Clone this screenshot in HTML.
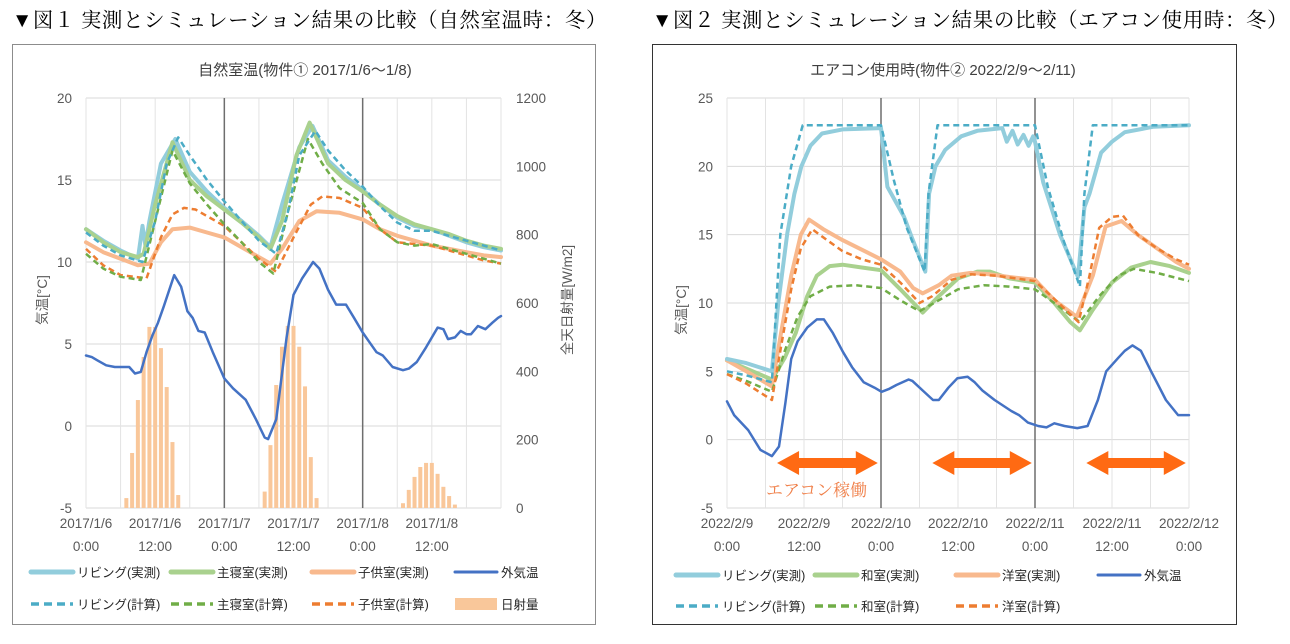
<!DOCTYPE html>
<html><head><meta charset="utf-8">
<style>
body{margin:0;background:#fff;width:1290px;height:644px;overflow:hidden}
svg{display:block;font-family:"Liberation Sans","Noto Sans CJK JP",sans-serif}
.hdr{font-family:"Liberation Serif","Noto Serif CJK SC",serif;font-size:20.5px;fill:#000;letter-spacing:0.6px}
.tick{font-size:13.5px;fill:#595959}
.ttl{font-size:15px;fill:#404040}
.leg{font-size:12.5px;fill:#262626}
</style></head><body>
<svg id="svg" width="1290" height="644" viewBox="0 0 1290 644">
<text class="hdr" x="12" y="27">▼図１ 実測とシミュレーション結果の比較（自然室温時：冬）</text>
<text class="hdr" x="652" y="27">▼図２ 実測とシミュレーション結果の比較（エアコン使用時：冬）</text>
<rect x="12.5" y="44.5" width="583" height="580" fill="none" stroke="#8c8c8c"/>
<rect x="652.5" y="44.5" width="584" height="580" fill="none" stroke="#333"/>
<g id="c1"></g>
<g id="c2"></g>
</svg>
<script>
// ---------- Chart 1 data (hour from 2017/1/6 0:00, °C) ----------
const c1LivingActual=[[0,12.0],[3,11.3],[6,10.7],[9,10.2],[9.8,12.2],[10.3,11.0],[11,12.5],[13,16.0],[15.5,17.5],[18,15.5],[21,14.3],[24,13.3],[27,12.5],[30,11.6],[32,10.9],[34,13.5],[37,17.0],[39.3,18.3],[42,16.2],[45,15.2],[48,14.4],[51,13.5],[54,12.7],[57,12.2],[60,12.0],[63,11.6],[66,11.2],[69,10.9],[72,10.7]];
const c1BedroomActual=[[0,12.0],[3,11.2],[6,10.6],[9,10.3],[10,10.5],[12,13.5],[15,17.3],[18,15.0],[21,14.0],[24,13.2],[27,12.4],[30,11.5],[32,10.8],[34,12.5],[36.5,16.5],[38.8,18.5],[42,16.0],[45,15.0],[48,14.3],[51,13.5],[54,12.8],[57,12.3],[60,12.0],[63,11.7],[66,11.3],[69,11.0],[72,10.8]];
const c1ChildActual=[[0,11.2],[3,10.6],[6,10.2],[9,9.8],[11,9.9],[13,11.2],[15,12.0],[18,12.1],[21,11.8],[24,11.5],[27,10.9],[30,10.3],[32,9.9],[34,10.8],[37,12.5],[40,13.1],[44,13.0],[48,12.6],[51,12.0],[54,11.6],[57,11.3],[60,11.0],[63,10.8],[66,10.6],[69,10.4],[72,10.3]];
const c1LivingCalc=[[0,11.8],[3,11.0],[6,10.4],[9.8,10.0],[12,12.5],[14,16.0],[16,17.6],[18,16.5],[21,15.0],[24,13.7],[27,12.5],[30,11.3],[33,10.5],[35,13.0],[37,16.5],[39.8,18.0],[42,16.8],[45,15.6],[48,14.6],[51,13.4],[54,12.4],[57,11.9],[60,11.9],[63,11.6],[66,11.3],[69,11.0],[72,10.7]];
const c1BedroomCalc=[[0,10.5],[3,9.6],[6,9.1],[9.5,8.9],[12,12.5],[15,16.8],[18,14.8],[21,13.5],[24,12.3],[27,11.2],[30,10.0],[32.5,9.3],[35,13.0],[38.5,17.5],[41,16.0],[44,14.5],[48,13.6],[51,12.0],[54,11.2],[57,11.0],[60,11.1],[63,10.8],[66,10.5],[69,10.2],[72,9.9]];
const c1ChildCalc=[[0,10.8],[3,9.8],[6,9.2],[10.5,9.0],[13,11.5],[15,12.9],[17,13.3],[19,13.2],[21,12.8],[24,12.2],[27,11.2],[30,10.2],[33,9.4],[36,11.5],[39,13.5],[41,14.0],[44,13.9],[48,13.3],[51,12.0],[54,11.2],[57,11.1],[60,11.0],[63,10.7],[66,10.4],[69,10.1],[72,9.9]];
const c1Outdoor=[[0,4.3],[1,4.2],[2,4.0],[3.5,3.7],[5,3.6],[6.5,3.6],[7.5,3.6],[8.5,3.2],[9.5,3.3],[10.5,4.5],[11.5,5.5],[12.5,6.3],[13.5,7.3],[15.3,9.2],[16.5,8.5],[17.6,7.0],[18.5,6.6],[19.5,5.8],[20.6,5.7],[22,4.5],[24,2.9],[25.5,2.3],[27.7,1.6],[29.5,0.4],[31,-0.7],[31.6,-0.8],[33,0.4],[34.8,5.4],[36,8.0],[37.5,9.0],[39.4,10.0],[40.5,9.6],[42,8.3],[43.4,7.4],[45.1,7.4],[46.5,6.6],[48,5.7],[49,5.2],[50.4,4.5],[51.5,4.3],[53.2,3.6],[55,3.4],[56,3.5],[57.4,3.9],[59,4.8],[61,6.0],[62,5.9],[62.8,5.3],[64,5.4],[65,5.8],[66,5.6],[66.8,5.6],[68,6.1],[69.3,5.9],[70.5,6.3],[71.5,6.6],[72,6.7]];
const c1SolarHours=[7,8,9,10,11,12,13,14,15,16,31,32,33,34,35,36,37,38,39,40,55,56,57,58,59,60,61,62,63,64];
const c1SolarValues=[29,161,316,442,530,530,468,354,193,38,48,184,360,472,533,533,472,356,149,29,14,53,91,120,132,132,100,62,35,10];
const c1YTicks=[-5,0,5,10,15,20];
const c1Y2Ticks=[0,200,400,600,800,1000,1200];
const c1XLabels=[["2017/1/6","0:00"],["2017/1/6","12:00"],["2017/1/7","0:00"],["2017/1/7","12:00"],["2017/1/8","0:00"],["2017/1/8","12:00"]];

// ---------- Chart 2 data (hour from 2022/2/9 0:00, °C) ----------
const c2LivingActual=[[0,5.9],[3,5.6],[7,5.0],[8,10],[9.4,15.1],[10.5,18],[11.6,20],[13,21.5],[14.8,22.4],[18,22.7],[24,22.8],[25,18.5],[27.6,16.3],[28.8,14.8],[30.9,12.3],[31.5,18],[32.5,20],[34,21.2],[36.5,22.2],[39,22.6],[42.9,22.8],[43.6,21.8],[44.5,22.6],[45.3,21.6],[46.2,22.3],[47,21.5],[47.7,22.2],[48,21.8],[49.3,18.8],[51.9,15.0],[54.7,11.9],[55.7,17.0],[56.5,18],[58.3,21.0],[60,21.8],[62,22.5],[66.5,22.9],[72,23.0]];
const c2JapaneseActual=[[0,5.8],[3,5.2],[7,4.4],[9,6.0],[10.7,7.8],[12.5,10.5],[14,12.0],[16,12.7],[18,12.8],[21,12.6],[24,12.4],[27,11],[30.5,9.3],[33,10.5],[36,11.8],[39,12.3],[41,12.3],[44,11.8],[48,11.5],[51,10],[53.5,8.6],[55,8.0],[57,9.5],[60,11.5],[63,12.6],[66,13.0],[69,12.7],[72,12.2]];
const c2WesternActual=[[0,5.8],[3,5.0],[7,3.9],[8.5,8],[10,12],[11.5,15],[12.8,16.1],[15,15.4],[18,14.6],[21,13.9],[24,13.2],[27,12.3],[29,11.1],[30.5,10.7],[33,11.3],[35,12.0],[38,12.2],[41,12.1],[44,11.9],[48,11.7],[51,10.2],[54.5,9.0],[57,12],[59,15.6],[61.5,16.0],[64,15.0],[67,14.0],[70,13.0],[72,12.5]];
const c2LivingCalc=[[0,5.0],[3,4.7],[7,4.2],[8.3,15],[10,20],[11.8,23],[24,23],[26,19],[28,15.5],[30.8,12.3],[31.4,18],[32.8,23],[48,23],[50,18.5],[52.5,14.5],[55,11.2],[55.7,18],[57,23],[72,23]];
const c2JapaneseCalc=[[0,4.8],[3,4.3],[7,3.5],[9,6.5],[11,9.0],[13,10.5],[16,11.2],[20,11.3],[24,11.1],[27,10.2],[30,9.4],[33,10.2],[36,11.0],[40,11.3],[44,11.2],[48,11.0],[51,10.0],[55,8.6],[58,10.5],[61,12.0],[63.4,12.5],[67,12.2],[72,11.6]];
const c2WesternCalc=[[0,4.8],[3,4.1],[7,2.9],[8.5,7],[10,11],[11.5,14],[13.3,15.4],[15,14.8],[18,13.8],[21,13.2],[24,12.8],[27,11.5],[30,10.0],[32,10.5],[35,11.7],[38,12.1],[42,12.0],[45,11.8],[48,11.6],[51,10.3],[54.8,8.6],[56.5,12],[58,15.5],[60,16.3],[61.7,16.4],[64,15.0],[67,14.0],[70,13.2],[72,12.8]];
const c2Outdoor=[[0,2.8],[1.1,1.8],[3.3,0.7],[5.2,-0.75],[7,-1.2],[8.1,-0.5],[9.1,2.7],[10,5.9],[11,7.2],[12.5,8.2],[14,8.8],[15.1,8.8],[16.5,7.8],[18.1,6.4],[19.5,5.3],[21.3,4.2],[23,3.8],[24.1,3.5],[25.2,3.7],[26.4,4.0],[28.3,4.4],[28.9,4.3],[30.5,3.6],[32.1,2.9],[33,2.9],[34.5,3.8],[35.9,4.5],[37.5,4.6],[38.6,4.2],[39.8,3.6],[41.7,2.9],[44.3,2.1],[45.5,1.8],[46.9,1.25],[48.5,1.0],[49.8,0.9],[51,1.2],[52.6,1.0],[54.6,0.85],[56.2,1.0],[57.8,2.9],[59.1,5.0],[61,6.0],[62,6.5],[63.2,6.9],[64.5,6.5],[66.1,5.0],[68.4,2.9],[70.3,1.8],[72,1.8]];
const c2YTicks=[-5,0,5,10,15,20,25];
const c2XLabels=[["2022/2/9","0:00"],["2022/2/9","12:00"],["2022/2/10","0:00"],["2022/2/10","12:00"],["2022/2/11","0:00"],["2022/2/11","12:00"],["2022/2/12","0:00"]];
const c2AcStart=[7.8,32,56];
const c2AcEnd=[23.5,47.5,71.5];

const NS='http://www.w3.org/2000/svg';
function mk(parent,tag,attrs,txt){const e=document.createElementNS(NS,tag);for(const k in attrs)e.setAttribute(k,attrs[k]);if(txt!==undefined)e.textContent=txt;parent.appendChild(e);return e;}

function drawChart(g,cfg){
  const X=h=>cfg.x0+h*(cfg.x1-cfg.x0)/72;
  const Y=v=>cfg.y1-(v-cfg.ymin)*(cfg.y1-cfg.y0)/(cfg.ymax-cfg.ymin);
  for(const v of cfg.yTicks){
    const l=mk(g,'line',{x1:cfg.x0,x2:cfg.x1,y1:Y(v),y2:Y(v),stroke:'#d9d9d9','stroke-width':1});
    
    
    const t=mk(g,'text',{class:'tick',x:cfg.x0-14,y:Y(v)+5,'text-anchor':'end'},String(v));
    
    
  }
  for(let h=0;h<=72;h+=6){
    const dark=(h===24||h===48);
    const l=mk(g,'line',{x1:X(h),x2:X(h),y1:cfg.y0,y2:cfg.y1,stroke:dark?'#6e6e6e':'#e3e3e3','stroke-width':dark?1.5:1});
    
    
  }
  cfg.xLabels.forEach((lb,i)=>{
    const t=mk(g,'text',{class:'tick',x:X(i*12),y:cfg.y1+20,'text-anchor':'middle'});
    
    
    mk(t,'tspan',{x:X(i*12),dy:0},lb[0]);
    mk(t,'tspan',{x:X(i*12),dy:23},lb[1]);
  });
  g._X=X;g._Y=Y;
}
function series(g,data,color,w,dash,name){
  const X=g._X,Y=g._Y;
  const p=mk(g,'polyline',{points:data.map(d=>X(d[0]).toFixed(1)+','+Y(d[1]).toFixed(1)).join(' '),fill:'none',stroke:color,'stroke-width':w,'stroke-linejoin':'round','stroke-linecap':dash?'butt':'round'});
  if(dash)p.setAttribute('stroke-dasharray',dash);
  
  
}
function legend(g,x,y,color,w,dash,label,isRect){
  if(isRect){
    const r=mk(g,'rect',{x:x,y:y-6,width:42,height:12,fill:color});
    
    
  }else{
    const l=mk(g,'line',{x1:x,x2:x+42,y1:y,y2:y,stroke:color,'stroke-width':w,'stroke-linecap':dash?'butt':'round'});
    if(dash)l.setAttribute('stroke-dasharray',dash);
    
    
  }
  const t=mk(g,'text',{class:'leg',x:x+46,y:y+5},label);
  
  
}
const C_LA='#92CDDC',C_GA='#A9D18E',C_OA='#F8B98E',C_LC='#4BACC6',C_GC='#70AD47',C_OC='#ED7D31',C_OUT='#4472C4',C_SOL='#F9C79A';

// ---- Chart 1 ----
const g1=document.getElementById('c1');
const cfg1={x0:86,x1:501,y0:98,y1:508,ymin:-5,ymax:20,yTicks:c1YTicks,xLabels:c1XLabels};
drawChart(g1,cfg1);
{
  const X=g1._X;const Y2=v=>508-v*410/1200;
  c1Y2Ticks.forEach(v=>{
    const t=mk(g1,'text',{class:'tick',x:516,y:Y2(v)+5},String(v));
    
    
  });
  c1SolarHours.forEach((h,i)=>{
    const r=mk(g1,'rect',{x:X(h)-2,y:Y2(c1SolarValues[i]),width:4,height:508-Y2(c1SolarValues[i]),fill:C_SOL});
    
    
  });
}
series(g1,c1ChildActual,C_OA,4,null,'child-room-actual-line');
series(g1,c1LivingActual,C_LA,4,null,'living-actual-line');
series(g1,c1BedroomActual,C_GA,4,null,'bedroom-actual-line');
series(g1,c1ChildCalc,C_OC,2.5,'6 4','child-room-calc-line');
series(g1,c1BedroomCalc,C_GC,2.5,'6 4','bedroom-calc-line');
series(g1,c1LivingCalc,C_LC,2.5,'6 4','living-calc-line');
series(g1,c1Outdoor,C_OUT,2.5,null,'outdoor-temp-line');
{
  const t=mk(g1,'text',{class:'ttl',x:305,y:75,'text-anchor':'middle'},'自然室温(物件① 2017/1/6～1/8)');
  
  const a=mk(g1,'text',{class:'tick',x:0,y:0,'text-anchor':'middle',transform:'translate(47,300) rotate(-90)'},'気温[°C]');
  
  const b=mk(g1,'text',{class:'tick',x:0,y:0,'text-anchor':'middle',transform:'translate(572,300) rotate(-90)'},'全天日射量[W/m2]');
  
}
legend(g1,31,572,C_LA,5,null,'リビング(実測)');
legend(g1,171,572,C_GA,5,null,'主寝室(実測)');
legend(g1,312,572,C_OA,5,null,'子供室(実測)');
legend(g1,455,572,C_OUT,3,null,'外気温');
legend(g1,31,604,C_LC,3.5,'8 5','リビング(計算)');
legend(g1,171,604,C_GC,3.5,'8 5','主寝室(計算)');
legend(g1,312,604,C_OC,3.5,'8 5','子供室(計算)');
legend(g1,455,604,C_SOL,0,null,'日射量',true);

// ---- Chart 2 ----
const g2=document.getElementById('c2');
const cfg2={x0:727,x1:1189,y0:98,y1:508,ymin:-5,ymax:25,yTicks:c2YTicks,xLabels:c2XLabels};
drawChart(g2,cfg2);
series(g2,c2JapaneseActual,C_GA,4,null,'japanese-room-actual-line');
series(g2,c2WesternActual,C_OA,4,null,'western-room-actual-line');
series(g2,c2LivingActual,C_LA,4,null,'living-actual-line');
series(g2,c2JapaneseCalc,C_GC,2.5,'6 4','japanese-room-calc-line');
series(g2,c2WesternCalc,C_OC,2.5,'6 4','western-room-calc-line');
series(g2,c2LivingCalc,C_LC,2.5,'6 4','living-calc-line');
series(g2,c2Outdoor,C_OUT,2.5,null,'outdoor-temp-line');
{
  const X=g2._X;const yA=463;
  c2AcStart.forEach((s,i)=>{
    const a=X(s),b=X(c2AcEnd[i]);
    const p=mk(g2,'polygon',{points:`${a},${yA} ${a+22},${yA-12} ${a+22},${yA-5} ${b-22},${yA-5} ${b-22},${yA-12} ${b},${yA} ${b-22},${yA+12} ${b-22},${yA+5} ${a+22},${yA+5} ${a+22},${yA+12}`,fill:'#FF6A13'});
    
    
  });
  const lt=mk(g2,'text',{x:766,y:496,'font-size':'17px','font-family':'"Liberation Serif","Noto Serif CJK SC",serif',fill:'#F0804A'},'エアコン稼働');
  
  const t=mk(g2,'text',{class:'ttl',x:943,y:75,'text-anchor':'middle'},'エアコン使用時(物件② 2022/2/9～2/11)');
  
  const ax=mk(g2,'text',{class:'tick',x:0,y:0,'text-anchor':'middle',transform:'translate(686,310) rotate(-90)'},'気温[°C]');
  
}
legend(g2,676,575,C_LA,5,null,'リビング(実測)');
legend(g2,815,575,C_GA,5,null,'和室(実測)');
legend(g2,956,575,C_OA,5,null,'洋室(実測)');
legend(g2,1098,575,C_OUT,3,null,'外気温');
legend(g2,676,606,C_LC,3.5,'8 5','リビング(計算)');
legend(g2,815,606,C_GC,3.5,'8 5','和室(計算)');
legend(g2,956,606,C_OC,3.5,'8 5','洋室(計算)');
</script>
</body></html>
